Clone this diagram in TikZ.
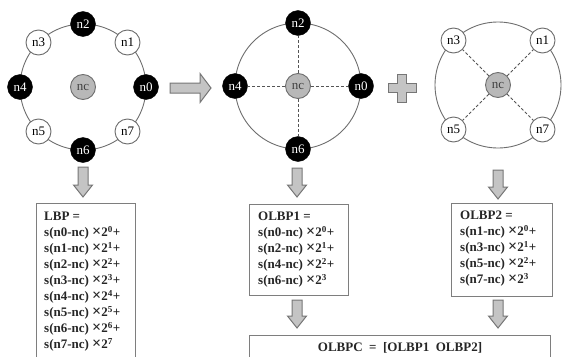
\documentclass[tikz,border=0pt]{standalone}
\usepackage{fontspec}
\setmainfont{Liberation Serif}
\usetikzlibrary{calc}

\definecolor{ringgray}{HTML}{6E6E6E}
\definecolor{centergray}{HTML}{B8B8B8}
\definecolor{dashgray}{HTML}{555555}
\definecolor{arrowfill}{HTML}{C4C4C4}
\definecolor{arrowdraw}{HTML}{767676}
\definecolor{boxgray}{HTML}{7E7E7E}

\tikzset{
  ring/.style={draw=ringgray, line width=0.9pt},
  pixel/.style={circle, minimum size=25pt, inner sep=0pt,
    font=\fontsize{13}{13}\selectfont},
  blackpix/.style={pixel, fill=black, draw=black, text=white},
  whitepix/.style={pixel, fill=white, draw=ringgray, line width=0.9pt},
  centerpix/.style={pixel, fill=centergray, draw=ringgray, line width=0.9pt, text=black!75},
  spoke/.style={draw=dashgray, line width=0.8pt, dash pattern=on 3pt off 2pt},
  blockarrow/.style={fill=arrowfill, draw=arrowdraw, line width=1pt, line join=miter},
  formulabox/.style={draw=boxgray, line width=1pt, fill=white, anchor=north west,
    inner sep=0pt},
  formulatext/.style={anchor=north west, inner sep=0pt, align=left,
    font=\bfseries\fontsize{13}{16}\selectfont, text=black!85},
}

% hollow block arrow pointing down, from coordinate #1 to its tip #2
\newcommand\blockdown[2]{%
  \draw[blockarrow] ($(#1)+(-5,0)$) -- ($(#1)+(5,0)$) -- ($(#2)+(5,-12)$)
    -- ($(#2)+(9.5,-12)$) -- (#2) -- ($(#2)+(-9.5,-12)$) -- ($(#2)+(-5,-12)$) -- cycle;}

\newcommand\term[2]{s(n#1-nc)\ {\fontsize{16}{16}\selectfont ×}2\textsuperscript{#2}}

\begin{document}
\begin{tikzpicture}[x=1pt, y=-1pt]
\useasboundingbox (0,0) rectangle (564,356);
\fill[white] (0,0) rectangle (564,356);

% ---- full 8-neighbour ring ----
\coordinate (c1) at (83,87);
\draw[ring] (c1) circle[radius=63];
\node[centerpix] (nc1) at (c1) {nc};
\node[blackpix] (a0) at ($(c1)+(63,0)$) {n0};
\node[whitepix] (a1) at ($(c1)+(44.5,-44.5)$) {n1};
\node[blackpix] (a2) at ($(c1)+(0,-63)$) {n2};
\node[whitepix] (a3) at ($(c1)+(-44.5,-44.5)$) {n3};
\node[blackpix] (a4) at ($(c1)+(-63,0)$) {n4};
\node[whitepix] (a5) at ($(c1)+(-44.5,44.5)$) {n5};
\node[blackpix] (a6) at ($(c1)+(0,63)$) {n6};
\node[whitepix] (a7) at ($(c1)+(44.5,44.5)$) {n7};

% ---- arrow to the split ----
\coordinate (ra) at (170,88);
\coordinate (rb) at (211,88);
\draw[blockarrow] ($(ra)+(0,-5)$) -- ($(rb)+(-11,-5)$) -- ($(rb)+(-11,-14.5)$) -- (rb)
  -- ($(rb)+(-11,14.5)$) -- ($(rb)+(-11,5)$) -- ($(ra)+(0,5)$) -- cycle;

% ---- even neighbours ----
\coordinate (c2) at (298,86);
\draw[ring] (c2) circle[radius=63];
\node[centerpix] (nc2) at (c2) {nc};
\node[blackpix] (b0) at ($(c2)+(63,0)$) {n0};
\node[blackpix] (b2) at ($(c2)+(0,-63)$) {n2};
\node[blackpix] (b4) at ($(c2)+(-63,0)$) {n4};
\node[blackpix] (b6) at ($(c2)+(0,63)$) {n6};
\foreach \n in {b0,b2,b4,b6} \draw[spoke] (nc2) -- (\n);

% ---- plus sign ----
\coordinate (pl) at (402,88);
\draw[blockarrow] ($(pl)+(-4.5,-14)$) -- ($(pl)+(4.5,-14)$) -- ($(pl)+(4.5,-4.5)$)
  -- ($(pl)+(14,-4.5)$) -- ($(pl)+(14,4.5)$) -- ($(pl)+(4.5,4.5)$) -- ($(pl)+(4.5,14)$)
  -- ($(pl)+(-4.5,14)$) -- ($(pl)+(-4.5,4.5)$) -- ($(pl)+(-14,4.5)$) -- ($(pl)+(-14,-4.5)$)
  -- ($(pl)+(-4.5,-4.5)$) -- cycle;

% ---- odd neighbours ----
\coordinate (c3) at (498,85);
\draw[ring] (c3) circle[radius=63];
\node[centerpix] (nc3) at (c3) {nc};
\node[whitepix] (d1) at ($(c3)+(44.5,-44.5)$) {n1};
\node[whitepix] (d3) at ($(c3)+(-44.5,-44.5)$) {n3};
\node[whitepix] (d5) at ($(c3)+(-44.5,44.5)$) {n5};
\node[whitepix] (d7) at ($(c3)+(44.5,44.5)$) {n7};
\foreach \n in {d1,d3,d5,d7} \draw[spoke] (nc3) -- (\n);

% ---- formula boxes ----
\node[formulabox, minimum width=99, minimum height=170] (lbp) at (36,203) {};
\node[formulatext] (lbpt) at ($(lbp.north west)+(8,9)$)
  {LBP =\\ \term{0}{0}+\\ \term{1}{1}+\\ \term{2}{2}+\\ \term{3}{3}+\\
   \term{4}{4}+\\ \term{5}{5}+\\ \term{6}{6}+\\ \term{7}{7}};

\node[formulabox, minimum width=99, minimum height=91] (ob1) at (249,204) {};
\node[formulatext] (ob1t) at ($(ob1.north west)+(9,8)$)
  {OLBP1 =\\ \term{0}{0}+\\ \term{2}{1}+\\ \term{4}{2}+\\ \term{6}{3}};

\node[formulabox, minimum width=101, minimum height=93] (ob2) at (451,203) {};
\node[formulatext] (ob2t) at ($(ob2.north west)+(9,8)$)
  {OLBP2 =\\ \term{1}{0}+\\ \term{3}{1}+\\ \term{5}{2}+\\ \term{7}{3}};

\node[formulabox, minimum width=301, minimum height=40] (obc) at (249,335) {};
\node[font=\bfseries\fontsize{13}{16}\selectfont, text=black!85, inner sep=0pt]
  (obct) at (400,348) {OLBPC\ \ =\ \ [OLBP1\ \ OLBP2]};

% ---- downward block arrows ----
\coordinate (s1) at (83,167);  \coordinate (t1) at (83,197);
\coordinate (s2) at (297,168); \coordinate (t2) at (297,197);
\coordinate (s3) at (498,170); \coordinate (t3) at (498,199);
\coordinate (s4) at (297,300); \coordinate (t4) at (297,328);
\coordinate (s5) at (498,300); \coordinate (t5) at (498,328);
\blockdown{s1}{t1}
\blockdown{s2}{t2}
\blockdown{s3}{t3}
\blockdown{s4}{t4}
\blockdown{s5}{t5}
\end{tikzpicture}
\end{document}
